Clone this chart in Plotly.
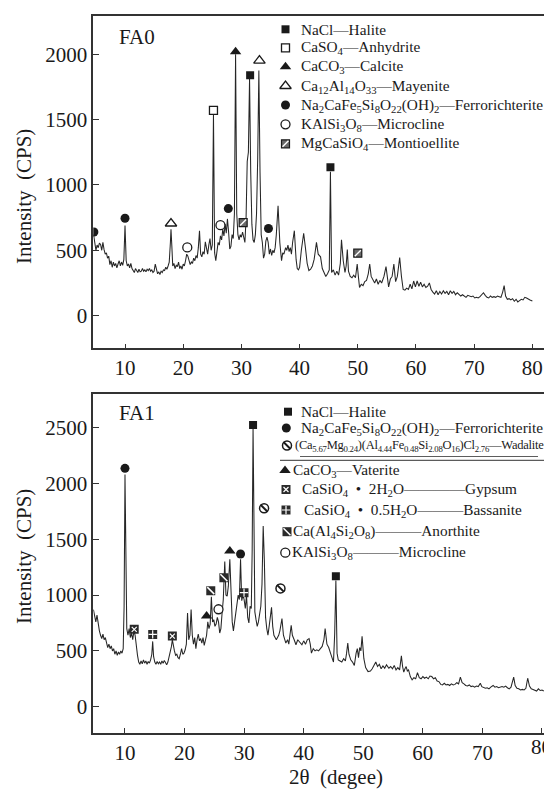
import plotly.graph_objects as go

W, H = 544, 789
FONT = "Liberation Serif"
INK = "#1a1a1a"

# ---------------- FA0 pattern ----------------
fa0_theta = [4.6, 4.8, 5.0, 5.2, 5.4, 5.6, 5.8, 6.0, 6.2, 6.4, 6.6, 6.8, 7.0, 7.2, 7.4, 7.6, 7.8, 8.0, 8.2, 8.4,
             8.6, 8.8, 9.0, 9.2, 9.4, 9.6, 9.8, 10.0, 10.2, 10.4, 10.6, 10.8, 11.0, 11.2, 11.4, 11.6, 11.8, 12.0,
             12.2, 12.4, 12.6, 12.8, 13.0, 13.2, 13.4, 13.6, 13.8, 14.0, 14.2, 14.4, 14.6, 14.8, 15.0, 15.2, 15.4,
             15.6, 15.8, 16.0, 16.2, 16.4, 16.6, 16.8, 17.0, 17.2, 17.4, 17.6, 17.8, 17.9, 18.05, 18.2, 18.4, 18.6,
             18.8, 19.0, 19.2, 19.4, 19.6, 19.8, 20.0, 20.2, 20.4, 20.6, 20.8, 21.0, 21.2, 21.4, 21.6, 21.8, 22.0,
             22.2, 22.4, 22.6, 22.8, 23.0, 23.2, 23.4, 23.6, 23.8, 24.0, 24.2, 24.4, 24.6, 24.8, 25.0, 25.2, 25.4,
             25.6, 25.8, 26.0, 26.2, 26.4, 26.6, 26.8, 27.0, 27.2, 27.4, 27.6, 27.8, 28.0, 28.2, 28.4, 28.6, 28.8,
             29.0, 29.2, 29.4, 29.6, 29.8, 30.0, 30.2, 30.4, 30.6, 30.8, 31.0, 31.2, 31.4, 31.6, 31.8, 32.0, 32.2,
             32.4, 32.6, 32.8, 33.0, 33.2, 33.4, 33.6, 33.8, 34.0, 34.2, 34.4, 34.6, 34.8, 35.0, 35.2, 35.4, 35.6,
             35.8, 36.0, 36.3, 36.6, 36.9, 37.1, 37.3, 37.6, 37.8, 38.0, 38.2, 38.4, 38.6, 38.8, 39.1, 39.4, 39.6,
             39.8, 40.0, 40.3, 40.7, 41.0, 41.3, 41.6, 41.9, 42.2, 42.5, 42.9, 43.2, 43.6, 43.9, 44.2, 44.5, 44.8,
             45.1, 45.3, 45.5, 45.8, 46.1, 46.4, 46.7, 47.0, 47.2, 47.5, 47.8, 48.0, 48.2, 48.4, 48.7, 49.0, 49.3,
             49.6, 49.9, 50.1, 50.3, 50.6, 50.9, 51.2, 51.5, 51.8, 52.05, 52.3, 52.6, 52.9, 53.2, 53.5, 53.8, 54.1,
             54.5, 54.85, 55.1, 55.3, 55.6, 55.9, 56.2, 56.5, 56.8, 57.2, 57.5, 57.8, 58.1, 58.4, 58.7, 59.0, 59.3,
             59.6, 59.9, 60.2, 60.5, 60.8, 61.1, 61.4, 61.7, 62.0, 62.3, 62.6, 62.9, 63.2, 63.5, 63.8, 64.1, 64.4,
             64.7, 65.0, 65.3, 65.6, 65.9, 66.2, 66.5, 66.8, 67.1, 67.4, 67.7, 68.0, 68.3, 68.6, 68.9, 69.2, 69.5,
             69.8, 70.1, 70.4, 70.7, 71.0, 71.3, 71.6, 71.9, 72.2, 72.5, 72.8, 73.1, 73.4, 73.7, 74.0, 74.3, 74.6,
             74.9, 75.15, 75.4, 75.7, 76.0, 76.3, 76.6, 76.9, 77.2, 77.5, 77.8, 78.1, 78.4, 78.7, 79.0, 79.3, 79.6,
             80.0]
fa0_int = [620, 560, 500, 540, 520, 555, 545, 500, 560, 505, 470, 480, 440, 455, 390, 420, 370, 410, 380, 400,
           365, 395, 420, 380, 410, 385, 430, 690, 420, 380, 395, 365, 400, 360, 340, 330, 360, 345,
           330, 355, 335, 340, 360, 340, 350, 335, 355, 345, 360, 340, 350, 330, 340, 395, 340,
           320, 335, 315, 340, 330, 350, 345, 370, 355, 380, 410, 560, 660, 530, 380, 400, 360,
           385, 375, 410, 360, 380, 355, 395, 380, 420, 470, 455, 420, 390, 410, 400, 440, 420,
           460, 440, 520, 650, 470, 450, 490, 470, 565, 500, 470, 540, 590, 500, 540, 1540, 480,
           420, 480, 560, 540, 610, 580, 660, 610, 700, 630, 740, 640, 510, 530, 620, 590, 780,
           2000, 780, 620, 580, 620, 600, 640, 590, 560, 740, 1180, 1250, 1810, 1100, 700, 580, 560,
           620, 780, 1200, 1875, 1100, 620, 560, 440, 470, 570, 600, 560, 470, 510, 460, 500, 480,
           520, 620, 840, 560, 420, 480, 470, 520, 500, 540, 490, 520, 470, 560, 650, 430, 360,
           350, 370, 500, 630, 520, 400, 345, 355, 380, 430, 560, 470, 450, 360, 330, 300, 320,
           350, 1100, 330, 350, 310, 340, 310, 400, 580, 420, 330, 380, 505, 340, 300, 290, 310,
           290, 395, 300, 215, 240, 230, 260, 270, 320, 395, 300, 270, 250, 280, 240, 270, 250,
           300, 375, 290, 220, 280, 300, 395, 260, 300, 445, 300, 200, 195, 210, 200, 240, 205,
           265, 220, 265, 225, 255, 220, 240, 215, 225, 250, 200, 180, 165, 190, 160, 185, 165,
           190, 170, 185, 160, 190, 170, 185, 160, 175, 160, 150, 160, 150, 140, 155, 150, 145,
           150, 135, 140, 135, 145, 160, 175, 155, 140, 135, 150, 140, 145, 140, 150, 145, 140,
           180, 230, 150, 125, 130, 120, 130, 110, 125, 105, 115, 125, 120, 140, 135, 130, 120,
           112]

# ---------------- FA1 pattern ----------------
fa1_theta = [4.7, 4.9, 5.1, 5.3, 5.5, 5.7, 5.9, 6.1, 6.3, 6.5, 6.7, 6.9, 7.1, 7.3, 7.5, 7.7, 7.9, 8.1, 8.3, 8.5,
             8.7, 8.9, 9.1, 9.3, 9.5, 9.7, 9.85, 10.0, 10.15, 10.3, 10.5, 10.7, 10.9, 11.1, 11.3, 11.5, 11.7,
             11.9, 12.1, 12.3, 12.5, 12.7, 12.9, 13.1, 13.3, 13.5, 13.7, 13.9, 14.1, 14.3, 14.5, 14.65, 14.8,
             15.0, 15.2, 15.4, 15.6, 15.8, 16.0, 16.2, 16.4, 16.6, 16.8, 17.0, 17.2, 17.4, 17.6, 17.8, 17.95,
             18.1, 18.3, 18.5, 18.7, 18.9, 19.1, 19.3, 19.5, 19.7, 19.9, 20.1, 20.3, 20.5, 20.7, 20.9, 21.1,
             21.3, 21.5, 21.7, 21.9, 22.1, 22.3, 22.5, 22.7, 22.9, 23.1, 23.3, 23.5, 23.7, 23.9, 24.1, 24.3,
             24.5, 24.7, 24.9, 25.1, 25.3, 25.5, 25.7, 25.9, 26.1, 26.3, 26.5, 26.75, 26.95, 27.15, 27.35,
             27.6, 27.8, 28.0, 28.2, 28.4, 28.6, 28.8, 29.0, 29.2, 29.4, 29.6, 29.8, 30.0, 30.2, 30.4, 30.6,
             30.8, 31.0, 31.2, 31.35, 31.5, 31.65, 31.8, 32.0, 32.2, 32.4, 32.6, 32.8, 33.0, 33.2, 33.4,
             33.6, 33.8, 34.0, 34.2, 34.4, 34.6, 34.8, 35.0, 35.2, 35.4, 35.6, 35.8, 36.0, 36.35, 36.6,
             36.8, 37.0, 37.3, 37.5, 37.9, 38.1, 38.4, 38.7, 39.0, 39.3, 39.7, 40.0, 40.3, 40.6, 40.9,
             41.1, 41.3, 41.6, 41.9, 42.2, 42.5, 42.8, 43.1, 43.4, 43.6, 43.9, 44.2, 44.5, 44.8, 45.0,
             45.2, 45.4, 45.6, 45.8, 46.1, 46.4, 46.7, 47.0, 47.2, 47.4, 47.6, 47.9, 48.2, 48.5, 48.8,
             49.0, 49.2, 49.4, 49.6, 49.8, 50.1, 50.4, 50.8, 51.2, 51.5, 51.8, 52.1, 52.4, 52.7, 53.0,
             53.3, 53.6, 53.9, 54.3, 54.6, 54.9, 55.2, 55.5, 55.8, 56.1, 56.4, 56.6, 56.8, 57.0, 57.2,
             57.4, 57.6, 57.9, 58.2, 58.5, 58.8, 59.1, 59.4, 59.7, 60.0, 60.3, 60.6, 60.9, 61.2, 61.5,
             61.8, 62.1, 62.4, 62.7, 63.0, 63.3, 63.6, 63.9, 64.2, 64.5, 64.8, 65.1, 65.4, 65.7, 66.0,
             66.3, 66.6, 66.9, 67.2, 67.5, 67.8, 68.1, 68.4, 68.7, 69.0, 69.3, 69.65, 69.9, 70.2, 70.5,
             70.8, 71.1, 71.4, 71.8, 72.1, 72.4, 72.7, 73.0, 73.3, 73.6, 73.9, 74.2, 74.5, 74.8, 75.05,
             75.25, 75.5, 75.8, 76.1, 76.4, 76.7, 77.0, 77.3, 77.6, 77.9, 78.2, 78.5, 78.8, 79.1, 79.4,
             79.7, 80.0, 80.3]
fa1_int = [870, 800, 760, 820, 740, 680, 640, 610, 650, 600, 620, 560, 530, 560, 520, 545, 500, 520, 470, 500,
           460, 490, 470, 500, 480, 520, 900, 2080, 900, 700, 640, 700, 620, 660, 600, 680, 640,
           520, 460, 400, 380, 410, 385, 420, 390, 410, 380, 405, 390, 420, 470, 585, 450,
           400, 380, 405, 385, 400, 380, 410, 390, 415, 395, 375, 400, 440, 480, 540, 600,
           540, 500, 460, 470, 440, 430, 470, 520, 470, 480, 510, 560, 840, 600, 640, 870,
           640, 560, 620, 520, 600, 650, 590, 610, 570, 620, 550, 600, 640, 760, 700, 740,
           985, 760, 780, 720, 740, 800, 760, 660, 700, 840, 960, 1300, 1000, 990, 1080,
           1320, 1000, 760, 680, 760, 840, 900, 1000, 960, 1320, 950, 1000, 960, 880, 1000, 800,
           750, 900, 880, 1400, 2500, 1400, 850, 780, 720, 760, 850, 900, 1100, 1620, 1300,
           800, 700, 640, 720, 800, 890, 720, 640, 620, 600, 620, 640, 680, 790, 640,
           600, 570, 600, 560, 730, 640, 600, 555, 600, 580, 555, 590, 560, 600, 610,
           560, 480, 520, 500, 510, 500, 520, 540, 600, 700, 560, 530, 480, 440, 400,
           650, 1130, 480, 420, 410, 400, 430, 410, 480, 570, 470, 420, 400, 370, 480,
           520, 440, 530, 500, 630, 430, 350, 315, 320, 340, 370, 400, 360, 380, 340,
           365, 345, 375, 345, 360, 340, 370, 330, 350, 330, 455, 360, 310, 340, 360,
           320, 330, 270, 240, 260, 250, 305, 260, 250, 270, 255, 265, 250, 275, 270,
           250, 260, 230, 225, 200, 195, 210, 195, 200, 190, 205, 195, 200, 215, 205,
           265, 215, 205, 190, 185, 195, 180, 185, 175, 185, 180, 210, 180, 170, 165,
           170, 160, 175, 190, 175, 180, 170, 175, 180, 175, 185, 170, 160, 175, 220,
           265, 190, 165, 160, 150, 155, 150, 165, 255, 185, 160, 155, 150, 140, 160,
           145, 150, 140]

# ---------------- phase markers (2θ, height) ----------------
fa0_halite_x, fa0_halite_y = [31.5, 45.3], [1840, 1135]
fa0_anhydrite_x, fa0_anhydrite_y = [25.2], [1570]
fa0_calcite_x, fa0_calcite_y = [29.0], [2020]
fa0_mayenite_x, fa0_mayenite_y = [17.9, 33.1], [705, 1951]
fa0_ferro_x, fa0_ferro_y = [4.65, 10.0, 27.75, 34.65], [640, 745, 819, 667]
fa0_micro_x, fa0_micro_y = [20.7, 26.4], [522, 692]
fa0_montio_x, fa0_montio_y = [30.3, 50.0], [712, 478]

fa1_halite_x, fa1_halite_y = [31.5, 45.4], [2524, 1170]
fa1_ferro_x, fa1_ferro_y = [10.0, 29.4], [2136, 1368]
fa1_wadalite_x, fa1_wadalite_y = [33.35, 36.1], [1778, 1060]
fa1_vaterite_x, fa1_vaterite_y = [23.7, 27.6], [813, 1395]
fa1_gypsum_x, fa1_gypsum_y = [11.55, 17.95], [693, 633]
fa1_bassanite_x, fa1_bassanite_y = [14.65, 29.98], [648, 1022]
fa1_anorthite_x, fa1_anorthite_y = [24.4, 26.6], [1040, 1155]
fa1_micro_x, fa1_micro_y = [25.7], [873]

x_ticks = [10, 20, 30, 40, 50, 60, 70, 80]
fa0_y_ticks = [0, 500, 1000, 1500, 2000]
fa1_y_ticks = [0, 500, 1000, 1500, 2000, 2500]

FERRO = "Na<sub>2</sub>CaFe<sub>5</sub>Si<sub>8</sub>O<sub>22</sub>(OH)<sub>2</sub>—Ferrorichterite"
fa0_legend = [
    ("halite", "NaCl—Halite"),
    ("anhydrite", "CaSO<sub>4</sub>—Anhydrite"),
    ("calcite", "CaCO<sub>3</sub>—Calcite"),
    ("mayenite", "Ca<sub>12</sub>Al<sub>14</sub>O<sub>33</sub>—Mayenite"),
    ("ferro", FERRO),
    ("micro", "KAlSi<sub>3</sub>O<sub>8</sub>—Microcline"),
    ("montio", "MgCaSiO<sub>4</sub>—Montioellite"),
]
fa1_legend = [
    ("halite", "NaCl—Halite"),
    ("ferro", FERRO),
    ("wadalite", "<span style=\"letter-spacing:-0.25px\">(Ca<sub>5.67</sub>Mg<sub>0.24</sub>)(Al<sub>4.44</sub>"
                 "Fe<sub>0.48</sub>Si<sub>2.08</sub>O<sub>16</sub>)Cl<sub>2.76</sub>—Wadalite</span>"),
    ("vaterite", "CaCO<sub>3</sub>—Vaterite"),
    ("gypsum", "CaSiO<sub>4</sub>\u00a0 •\u00a0 2H<sub>2</sub>O————Gypsum"),
    ("bassanite", "CaSiO<sub>4</sub>\u00a0 •\u00a0 0.5H<sub>2</sub>O———Bassanite"),
    ("anorthite", "Ca(Al<sub>4</sub>Si<sub>2</sub>O<sub>8</sub>)———Anorthite"),
    ("micro", "KAlSi<sub>3</sub>O<sub>8</sub>———Microcline"),
]

# ---------------- marker styles ----------------
def layers(kind):
    dark = INK
    if kind == "halite":
        return [dict(symbol="square", size=8, color=dark, line=dict(width=0))]
    if kind == "anhydrite":
        return [dict(symbol="square", size=8, color="white", line=dict(color=dark, width=1.3))]
    if kind in ("calcite", "vaterite"):
        return [dict(symbol="triangle-up", size=10, color=dark, line=dict(width=0))]
    if kind == "mayenite":
        return [dict(symbol="triangle-up", size=10, color="white", line=dict(color=dark, width=1.3))]
    if kind == "ferro":
        return [dict(symbol="circle", size=9, color=dark, line=dict(width=0))]
    if kind == "micro":
        return [dict(symbol="circle", size=9, color="white", line=dict(color=dark, width=1.3))]
    if kind == "montio":
        return [dict(symbol="square", size=8, color="#6a6a6a", line=dict(color=dark, width=1.2)),
                dict(symbol="line-ne", size=6, color="white", line=dict(color="white", width=1.4))]
    if kind == "wadalite":
        return [dict(symbol="circle", size=9, color="white", line=dict(color=dark, width=1.5)),
                dict(symbol="line-nw", size=7, color=dark, line=dict(color=dark, width=2))]
    if kind == "gypsum":
        return [dict(symbol="square", size=9, color="#2a2a2a", line=dict(width=0)),
                dict(symbol="x-thin", size=5, color="white", line=dict(color="white", width=1.2))]
    if kind == "bassanite":
        return [dict(symbol="square", size=9, color="#2a2a2a", line=dict(width=0)),
                dict(symbol="cross-thin", size=6, color="white", line=dict(color="white", width=1.2))]
    if kind == "anorthite":
        return [dict(symbol="square", size=9, color="#2a2a2a", line=dict(width=0)),
                dict(symbol="line-nw", size=7, color="white", line=dict(color="white", width=1.5))]
    raise ValueError(kind)


fig = go.Figure()


def add_marks(xs, ys, kind, xa, ya, clip=True):
    for m in layers(kind):
        fig.add_trace(go.Scatter(x=xs, y=ys, xaxis=xa, yaxis=ya, mode="markers",
                                 marker=m, cliponaxis=clip, showlegend=False, hoverinfo="skip"))


LINE = dict(color="#262626", width=1.05)
fig.add_trace(go.Scatter(x=fa0_theta, y=fa0_int, mode="lines", line=LINE, xaxis="x", yaxis="y",
                         showlegend=False))
fig.add_trace(go.Scatter(x=fa1_theta, y=fa1_int, mode="lines", line=LINE, xaxis="x2", yaxis="y2",
                         showlegend=False))

add_marks(fa0_halite_x, fa0_halite_y, "halite", "x", "y")
add_marks(fa0_anhydrite_x, fa0_anhydrite_y, "anhydrite", "x", "y")
add_marks(fa0_calcite_x, fa0_calcite_y, "calcite", "x", "y")
add_marks(fa0_mayenite_x, fa0_mayenite_y, "mayenite", "x", "y")
add_marks(fa0_ferro_x, fa0_ferro_y, "ferro", "x", "y")
add_marks(fa0_micro_x, fa0_micro_y, "micro", "x", "y")
add_marks(fa0_montio_x, fa0_montio_y, "montio", "x", "y")

add_marks(fa1_halite_x, fa1_halite_y, "halite", "x2", "y2")
add_marks(fa1_ferro_x, fa1_ferro_y, "ferro", "x2", "y2")
add_marks(fa1_wadalite_x, fa1_wadalite_y, "wadalite", "x2", "y2")
add_marks(fa1_vaterite_x, fa1_vaterite_y, "vaterite", "x2", "y2")
add_marks(fa1_gypsum_x, fa1_gypsum_y, "gypsum", "x2", "y2")
add_marks(fa1_bassanite_x, fa1_bassanite_y, "bassanite", "x2", "y2")
add_marks(fa1_anorthite_x, fa1_anorthite_y, "anorthite", "x2", "y2")
add_marks(fa1_micro_x, fa1_micro_y, "micro", "x2", "y2")

# ---------------- legends (pixel layout on overlay axes) ----------------
annotations = []
LEG_FONT = dict(family=FONT, size=15.3, color=INK)
top_rows_y = [29.3, 47.8, 66.7, 86.0, 105.0, 124.3, 143.8]
top_text_x = [298.5, 298.5, 298.5, 298.5, 298.5, 298.5, 298.5]
for (kind, txt), ry, tx in zip(fa0_legend, top_rows_y, top_text_x):
    add_marks([285.5], [ry], kind, "x3", "y3", clip=False)
    annotations.append(dict(text=txt, x=tx / W, y=1 - ry / H, xref="paper", yref="paper",
                            xanchor="left", yanchor="middle", showarrow=False, font=LEG_FONT))

bot_rows_y = [411.7, 428.0, 445.5, 470.5, 489.5, 510.0, 531.7, 552.7]
bot_text_x = [299.0, 298.5, 292.5, 290.5, 299.5, 302.0, 291.0, 290.0]
bot_sym_x = [288.0, 286.3, 287.0, 285.0, 286.0, 286.0, 287.0, 285.3]
for (kind, txt), ry, tx, sx in zip(fa1_legend, bot_rows_y, bot_text_x, bot_sym_x):
    add_marks([sx], [ry], kind, "x3", "y3", clip=False)
    f = dict(LEG_FONT)
    if kind == "wadalite":
        f["size"] = 12.5
    annotations.append(dict(text=txt, x=tx / W, y=1 - ry / H, xref="paper", yref="paper",
                            xanchor="left", yanchor="middle", showarrow=False, font=f))

TITLE_FONT = dict(family=FONT, size=21, color=INK)
TICK_FONT = dict(family=FONT, size=21, color=INK)
annotations += [
    dict(text="FA0", x=117 / W, y=1 - 37 / H, xref="paper", yref="paper", xanchor="left",
         yanchor="middle", showarrow=False, font=TITLE_FONT),
    dict(text="FA1", x=117 / W, y=1 - 413 / H, xref="paper", yref="paper", xanchor="left",
         yanchor="middle", showarrow=False, font=TITLE_FONT),
    dict(text="Intensity\u00a0 (CPS)", x=24 / W, y=1 - 197 / H, xref="paper", yref="paper",
         xanchor="center", yanchor="middle", textangle=-90, showarrow=False, font=TITLE_FONT),
    dict(text="Intensity\u00a0 (CPS)", x=24 / W, y=1 - 557 / H, xref="paper", yref="paper",
         xanchor="center", yanchor="middle", textangle=-90, showarrow=False, font=TITLE_FONT),
    dict(text="2θ\u00a0 (degee)", x=336 / W, y=1 - 777 / H, xref="paper", yref="paper",
         xanchor="center", yanchor="middle", showarrow=False, font=TITLE_FONT),
    # last tick label of the lower axis, which runs past the right edge of the page
    dict(text=str(x_ticks[-1]), x=x_ticks[-1], xref="x2", y=1 - 746.5 / H, yref="paper",
         xanchor="center", yanchor="middle", showarrow=False, font=TICK_FONT),
]

shapes = [
    dict(type="line", xref="paper", yref="paper", x0=300 / W, x1=538 / W, y0=1 - 456.5 / H, y1=1 - 456.5 / H,
         line=dict(color="#333", width=0.8)),
    dict(type="line", xref="paper", yref="paper", x0=280 / W, x1=1, y0=1 - 460.3 / H, y1=1 - 460.3 / H,
         line=dict(color="#333", width=1)),
]

x_common = dict(showline=True, linecolor="#333", linewidth=1.5, mirror=True, ticks="inside", ticklen=5,
                tickwidth=1.3, tickcolor="#333", tickvals=x_ticks, tickfont=TICK_FONT, showgrid=False,
                zeroline=False)
y_common = dict(showline=True, linecolor="#333", linewidth=1.5, mirror=False, ticks="inside", ticklen=6,
                tickwidth=1.3, tickcolor="#333", tickfont=TICK_FONT, showgrid=False, zeroline=False)

fig.update_layout(
    width=W, height=H, margin=dict(l=0, r=0, t=0, b=0),
    paper_bgcolor="white", plot_bgcolor="rgba(0,0,0,0)", showlegend=False,
    xaxis=dict(domain=[93.3 / W, 1.0], range=[4.55, 82.0], anchor="y", **x_common),
    yaxis=dict(domain=[1 - 348.3 / H, 1 - 15.7 / H], range=[-250, 2295], anchor="x",
               tickvals=fa0_y_ticks, **y_common),
    xaxis2=dict(domain=[93.3 / W, 1.0], range=[4.68, 80.34], anchor="y2", **x_common),
    yaxis2=dict(domain=[1 - 732.7 / H, 1 - 394 / H], range=[-233, 2802], anchor="x2",
                tickvals=fa1_y_ticks, **y_common),
    xaxis3=dict(domain=[0, 1], range=[0, W], anchor="y3", visible=False, fixedrange=True),
    yaxis3=dict(domain=[0, 1], range=[H, 0], anchor="x3", visible=False, fixedrange=True),
    annotations=annotations, shapes=shapes,
)

fig.write_html("out.html")
